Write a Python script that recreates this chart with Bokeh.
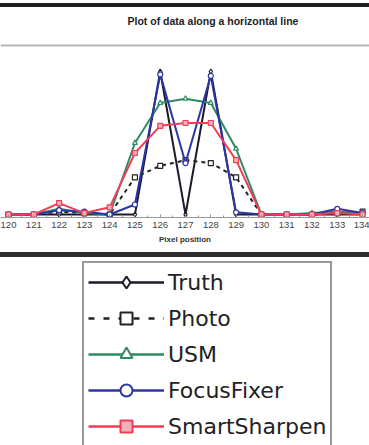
from bokeh.plotting import figure
from bokeh.layouts import column
from bokeh.models import Range1d, SingleIntervalTicker, Legend, LegendItem, Span, Div
from bokeh.embed import file_html
from bokeh.resources import INLINE

# ---- data -------------------------------------------------------------
pixels = list(range(120, 135))
truth = [0, 0, 0, 0, 0, 0, 1.0, 0, 1.0, 0, 0, 0, 0, 0, 0]
photo = [0, 0, 0.02, 0.01, 0, 0.26, 0.34, 0.38, 0.36, 0.26, 0, 0, 0, 0.01, 0.02]
usm = [0, 0, 0.04, 0.01, 0, 0.50, 0.78, 0.81, 0.78, 0.46, 0, 0, 0.01, 0.02, 0.01]
focusfixer = [0, 0, 0.03, 0.02, 0, 0.07, 0.98, 0.36, 0.97, 0.015, 0, 0, 0, 0.04, 0.01]
smartsharpen = [0, 0, 0.08, 0.01, 0.05, 0.43, 0.62, 0.64, 0.64, 0.38, 0, 0, 0, 0.01, 0]

names = ["Truth", "Photo", "USM", "FocusFixer", "SmartSharpen"]
values = [truth, photo, usm, focusfixer, smartsharpen]
colors = ["#1b1b2b", "#222222", "#2f8a62", "#2a36a6", "#f03e58"]
markers = ["diamond", "square", "triangle", "circle", "square"]
dashes = ["solid", "4 4", "solid", "solid", "solid"]
legend_dashes = ["solid", "6 9", "solid", "solid", "solid"]
fills = ["white", "white", "white", "white", "#f7b0ba"]

title_text = "Plot of data along a horizontal line"
xlabel = "Pixel position"

W = 369
XR = (119.684, 134.275)
PLOT_TOP = 1.182          # value at the grey separator line
YR = (-0.021, 1.315)


top = Div(text="", width=W, height=4, margin=(3, 0, 0, 0),
          styles={"background-color": "#1e1e1e"})

# ---- chart ------------------------------------------------------------
p = figure(width=W, height=245, x_range=Range1d(*XR), y_range=Range1d(*YR),
           y_axis_type=None, output_backend="svg", toolbar_location=None,
           min_border_left=0, min_border_right=0, min_border_top=19,
           min_border_bottom=35, outline_line_color=None,
           background_fill_color="white", border_fill_color="white")
p.grid.visible = False
p.title.text = title_text
p.title.align = "left"
p.title.offset = 127
p.title.vertical_align = "bottom"
p.title.standoff = 0
p.title.text_font = "Liberation Sans"
p.title.text_font_size = "10.5px"
p.title.text_font_style = "bold"
p.title.text_color = "#222222"

p.add_layout(Span(location=PLOT_TOP, dimension="width", line_color="#b5b5b5",
                  line_width=2))

ax = p.xaxis[0]
ax.ticker = SingleIntervalTicker(interval=1, num_minor_ticks=2)
ax.axis_line_color = "#999999"
ax.major_tick_line_color = "#999999"
ax.minor_tick_line_color = "#999999"
ax.major_tick_in = 3
ax.major_tick_out = 0
ax.minor_tick_in = 2
ax.minor_tick_out = 0
ax.major_label_standoff = 4
ax.major_label_text_font = "Liberation Sans"
ax.major_label_text_font_size = "9.5px"
ax.major_label_text_color = "#444444"
ax.axis_label = xlabel
ax.axis_label_text_font = "Liberation Sans"
ax.axis_label_text_font_size = "8px"
ax.axis_label_text_font_style = "bold"
ax.axis_label_text_color = "#333333"
ax.axis_label_standoff = 4

for nm, v, c, m, d, f in zip(names, values, colors, markers, dashes, fills):
    p.line(pixels, v, line_color=c, line_width=2, line_dash=d)
    p.scatter(pixels, v, marker=m, size=5, line_color=c, fill_color=f,
              line_width=1.2)

mid = Div(text="", width=W, height=5, margin=0,
          styles={"background-color": "#2e2e2e"})

# ---- legend -----------------------------------------------------------
LH = 188
lg = figure(width=W, height=LH, x_range=Range1d(0, 1), y_range=Range1d(0, 1),
            x_axis_type=None, y_axis_type=None, output_backend="svg",
            toolbar_location=None, min_border=0, outline_line_color=None,
            background_fill_color="white", border_fill_color="white")
items = []
for nm, v, c, m, d, f in zip(names, values, colors, markers, legend_dashes, fills):
    lr = lg.line(pixels, v, line_color=c, line_width=2.5, line_dash=d)
    sr = lg.scatter(pixels, v, marker=m, size=12, line_color=c, fill_color=f,
                    line_width=2)
    items.append(LegendItem(label=nm, renderers=[lr, sr]))

legend = Legend(items=items, location=(82, -2), orientation="vertical",
                glyph_width=76, glyph_height=30, label_height=30,
                label_width=158, spacing=6, padding=4, margin=0,
                label_standoff=4, label_text_font="DejaVu Sans",
                label_text_font_size="22px", label_text_color="#222222",
                border_line_color="#333333", border_line_width=2,
                background_fill_color="white", background_fill_alpha=1)
lg.add_layout(legend, "center")

layout = column(top, p, mid, lg, spacing=0)

with open("out.html", "w") as fh:
    fh.write(file_html(layout, INLINE))
